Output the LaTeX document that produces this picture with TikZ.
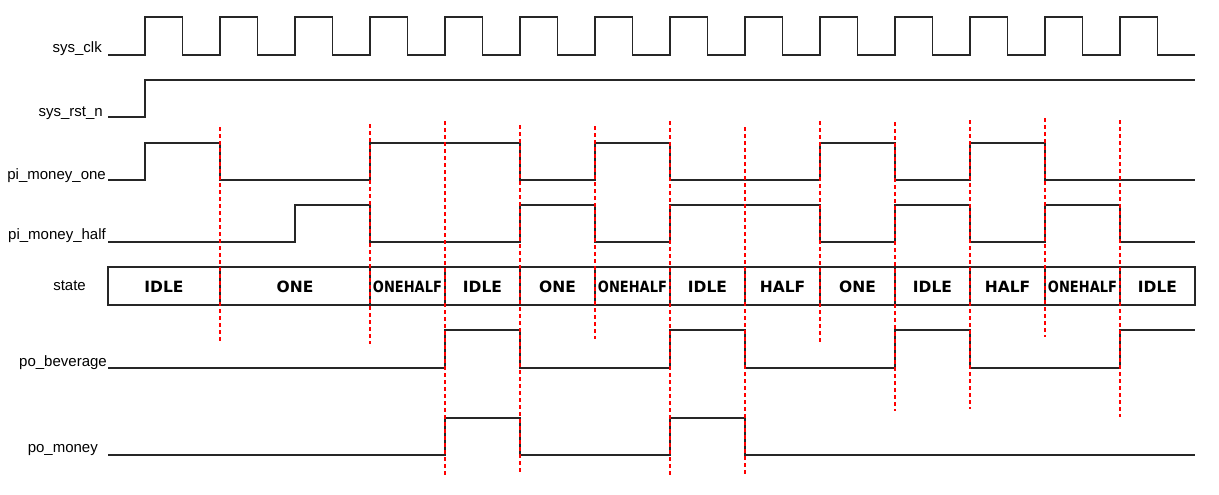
\documentclass[tikz,border=0pt]{standalone}
\usepackage{fontspec}
\usepackage{graphicx}
\setmainfont{Liberation Sans}
\newfontfamily\statefont{DejaVu Sans}
\usetikzlibrary{positioning}

\begin{document}
\begin{tikzpicture}[x=1pt, y=-1pt, sig/.style={draw=black!85, line width=1.3pt, line join=miter}, cut/.style={draw=red, line width=1.1pt, dash pattern=on 4pt off 3pt}, lbl/.style={anchor=base east, inner sep=0pt, font=\fontsize{15}{18}\selectfont}, st/.style={inner sep=0pt, font=\statefont\bfseries\fontsize{15.5}{18}\selectfont}]

\useasboundingbox (0,0) rectangle (1219,495);

% signal names
\node[lbl] (clk) at (102,53) {sys\_clk};
\node[lbl] (rst) at (103,117) {sys\_rst\_n};
\node[lbl] (one) at (106,179) {pi\_money\_one};
\node[lbl] (half) at (106,239) {pi\_money\_half};
\node[lbl, anchor=east] (state) at (86,286) {state};
\node[lbl] (bev) at (107,366) {po\_beverage};
\node[lbl] (money) at (98,452) {po\_money};

% clock
\draw[sig] (108,55) \foreach \k in {0,...,13}{ -- ({145+75*\k},55) -- ({145+75*\k},17) -- ({182.5+75*\k},17) -- ({182.5+75*\k},55)} -- (1195,55);

% reset
\draw[sig] (108,117) -- (145,117) -- (145,80) -- (1195,80);

% inputs
\draw[sig] (108,180) -- (145,180) -- (145,143) -- (220,143) -- (220,180) -- (370,180) -- (370,143) -- (520,143) -- (520,180) -- (595,180) -- (595,143) -- (670,143) -- (670,180) -- (820,180) -- (820,143) -- (895,143) -- (895,180) -- (970,180) -- (970,143) -- (1045,143) -- (1045,180) -- (1195,180);
\draw[sig] (108,242) -- (295,242) -- (295,205) -- (370,205) -- (370,242) -- (520,242) -- (520,205) -- (595,205) -- (595,242) -- (670,242) -- (670,205) -- (820,205) -- (820,242) -- (895,242) -- (895,205) -- (970,205) -- (970,242) -- (1045,242) -- (1045,205) -- (1120,205) -- (1120,242) -- (1195,242);

% state bus
\draw[sig] (108,267) rectangle (1195,305);
\foreach \x in {220,370,445,520,595,670,745,820,895,970,1045,1120}
  \draw[sig] (\x,267) -- (\x,305);
\foreach \a/\b/\s in {108/220/IDLE, 220/370/ONE, 445/520/IDLE, 520/595/ONE, 670/745/IDLE, 745/820/HALF, 820/895/ONE, 895/970/IDLE, 970/1045/HALF, 1120/1195/IDLE}
  \node[st] (s\a) at ({(\a+\b)/2},286.5) {\s};
\foreach \a/\b in {370/445, 595/670, 1045/1120}
  \node[st] (s\a) at ({(\a+\b)/2},286.5) {\scalebox{0.84}[1]{ONEHALF}};

% outputs
\draw[sig] (108,368) -- (445,368) -- (445,330) -- (520,330) -- (520,368) -- (670,368) -- (670,330) -- (745,330) -- (745,368) -- (895,368) -- (895,330) -- (970,330) -- (970,368) -- (1120,368) -- (1120,330) -- (1195,330);
\draw[sig] (108,455) -- (445,455) -- (445,418) -- (520,418) -- (520,455) -- (670,455) -- (670,418) -- (745,418) -- (745,455) -- (1195,455);

% state change marks
\foreach \x/\t/\b in {220/127/341, 370/124/344, 445/121/477, 520/125/473, 595/126/339, 670/121/477, 745/127/476, 820/121/342, 895/122/411, 970/120/409, 1045/118/337, 1120/120/417}
  \draw[cut] (\x,\t) -- (\x,\b);
\end{tikzpicture}
\end{document}
